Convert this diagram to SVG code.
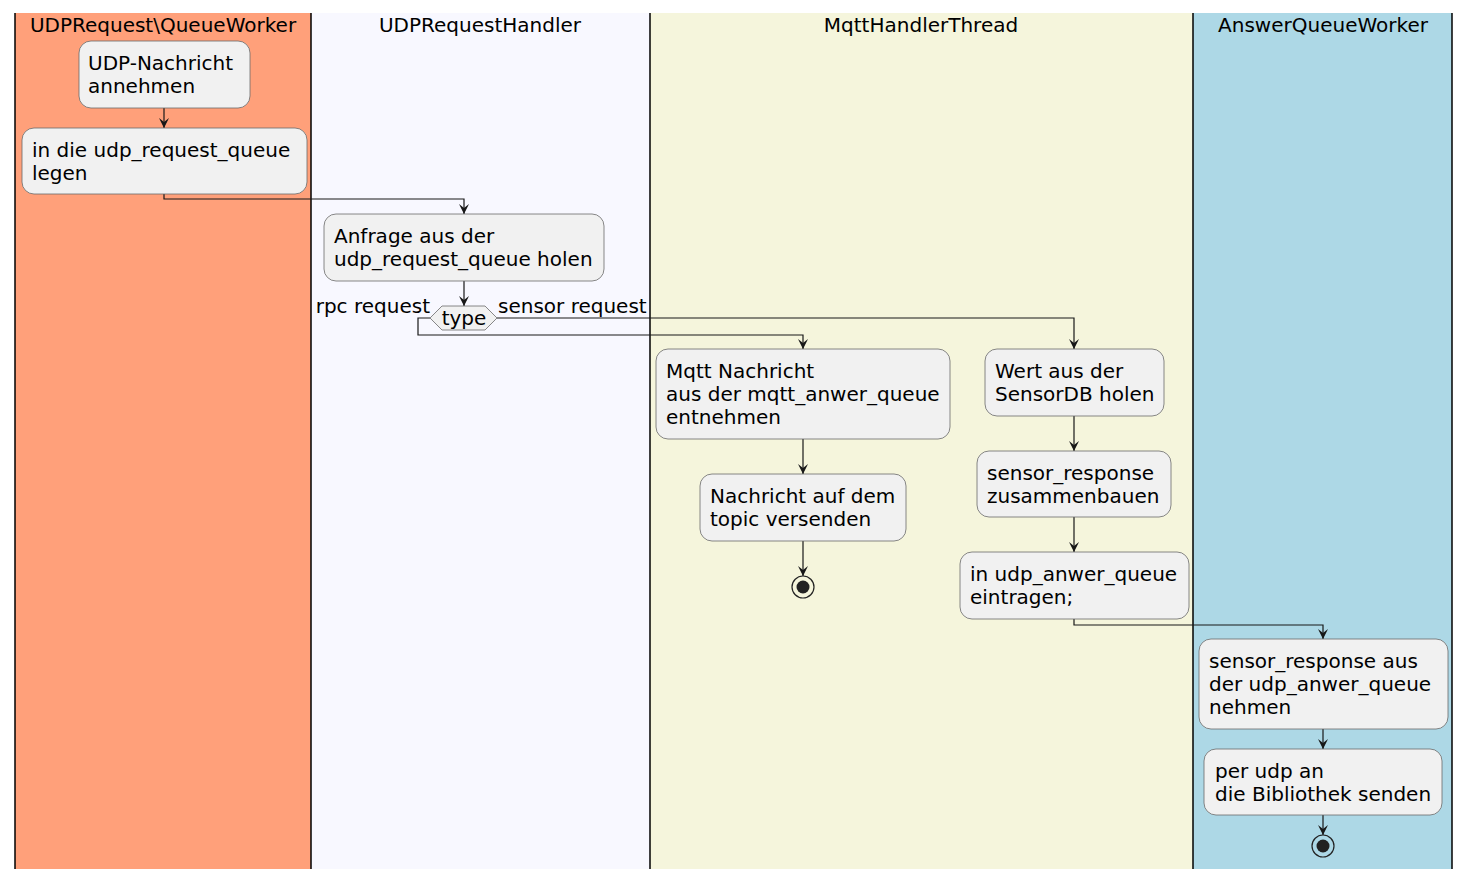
<svg xmlns="http://www.w3.org/2000/svg" width="1471" height="880" viewBox="0 0 1471 880">
<defs>
<style>
text{font-family:"DejaVu Sans","Liberation Sans",sans-serif;font-size:20px;fill:#000}
.title{text-anchor:middle}
.node rect{fill:#F1F1F1;stroke:#6a6a6a;stroke-width:0.8}
.conn path{fill:none;stroke:#181818;stroke-width:1.2}
.lane{stroke:none}
.border{stroke:#000;stroke-width:1.5}
</style>
<marker id="arr" viewBox="0 0 12 12" refX="10" refY="6" markerWidth="12" markerHeight="12" markerUnits="userSpaceOnUse" orient="auto">
<path d="M0,1 L10,6 L0,11 L4,6 z" fill="#181818"/>
</marker>
</defs>
<rect width="1471" height="880" fill="#fff"/>
<g id="lanes">
<rect class="lane" x="15" y="13" width="296" height="856" fill="#FFA07A"/>
<rect class="lane" x="311" y="13" width="339" height="856" fill="#F8F8FF"/>
<rect class="lane" x="650" y="13" width="543" height="856" fill="#F5F5DC"/>
<rect class="lane" x="1193" y="13" width="259" height="856" fill="#ADD8E6"/>
<line class="border" x1="15" y1="13" x2="15" y2="869"/>
<line class="border" x1="311" y1="13" x2="311" y2="869"/>
<line class="border" x1="650" y1="13" x2="650" y2="869"/>
<line class="border" x1="1193" y1="13" x2="1193" y2="869"/>
<line class="border" x1="1452" y1="13" x2="1452" y2="869"/>
<text class="title" x="163" y="32">UDPRequest\QueueWorker</text>
<text class="title" x="480" y="32">UDPRequestHandler</text>
<text class="title" x="921" y="32">MqttHandlerThread</text>
<text class="title" x="1323" y="32">AnswerQueueWorker</text>
</g>
<g id="connectors" class="conn">
<path d="M164,108 L164,128" marker-end="url(#arr)"/>
<path d="M164,194 L164,199 L464,199 L464,214" marker-end="url(#arr)"/>
<path d="M464,281 L464,306" marker-end="url(#arr)"/>
<path d="M430,318 L418,318 L418,335 L803,335 L803,349" marker-end="url(#arr)"/>
<path d="M497,318 L1074,318 L1074,349" marker-end="url(#arr)"/>
<path d="M803,439 L803,474" marker-end="url(#arr)"/>
<path d="M803,541 L803,576" marker-end="url(#arr)"/>
<path d="M1074,416 L1074,451" marker-end="url(#arr)"/>
<path d="M1074,517 L1074,552" marker-end="url(#arr)"/>
<path d="M1074,619 L1074,625 L1323,625 L1323,639" marker-end="url(#arr)"/>
<path d="M1323,729 L1323,749" marker-end="url(#arr)"/>
<path d="M1323,815 L1323,835" marker-end="url(#arr)"/>
<text x="430" y="313" text-anchor="end">rpc request</text>
<text x="498" y="313">sensor request</text>
</g>
<g id="n1" class="node"><rect x="79" y="41" width="171" height="67" rx="12"/><text x="88" y="70">UDP-Nachricht</text><text x="88" y="93">annehmen</text></g>
<g id="n2" class="node"><rect x="22" y="128" width="285" height="66" rx="12"/><text x="32" y="157">in die udp_request_queue</text><text x="32" y="180">legen</text></g>
<g id="n3" class="node"><rect x="324" y="214" width="280" height="67" rx="12"/><text x="334" y="243">Anfrage aus der</text><text x="334" y="266">udp_request_queue holen</text></g>
<g id="d1" class="node"><polygon points="430,318 442,306 485,306 497,318 485,330 442,330" fill="#F1F1F1" stroke="#6a6a6a" stroke-width="0.8"/><text x="464" y="325" text-anchor="middle">type</text></g>
<g id="n4" class="node"><rect x="656" y="349" width="294" height="90" rx="12"/><text x="666" y="378">Mqtt Nachricht</text><text x="666" y="401">aus der mqtt_anwer_queue</text><text x="666" y="424">entnehmen</text></g>
<g id="n5" class="node"><rect x="700" y="474" width="206" height="67" rx="12"/><text x="710" y="503">Nachricht auf dem</text><text x="710" y="526">topic versenden</text></g>
<g id="e1"><circle cx="803" cy="587" r="11" fill="none" stroke="#222" stroke-width="1.2"/><circle cx="803" cy="587" r="6.5" fill="#222"/></g>
<g id="n6" class="node"><rect x="985" y="349" width="179" height="67" rx="12"/><text x="995" y="378">Wert aus der</text><text x="995" y="401">SensorDB holen</text></g>
<g id="n7" class="node"><rect x="977" y="451" width="194" height="66" rx="12"/><text x="987" y="480">sensor_response</text><text x="987" y="503">zusammenbauen</text></g>
<g id="n8" class="node"><rect x="960" y="552" width="229" height="67" rx="12"/><text x="970" y="581">in udp_anwer_queue</text><text x="970" y="604">eintragen;</text></g>
<g id="n9" class="node"><rect x="1199" y="639" width="249" height="90" rx="12"/><text x="1209" y="668">sensor_response aus</text><text x="1209" y="691">der udp_anwer_queue</text><text x="1209" y="714">nehmen</text></g>
<g id="n10" class="node"><rect x="1204" y="749" width="238" height="66" rx="12"/><text x="1215" y="778">per udp an</text><text x="1215" y="801">die Bibliothek senden</text></g>
<g id="e2"><circle cx="1323" cy="846" r="11" fill="none" stroke="#222" stroke-width="1.2"/><circle cx="1323" cy="846" r="6.5" fill="#222"/></g>
</svg>
